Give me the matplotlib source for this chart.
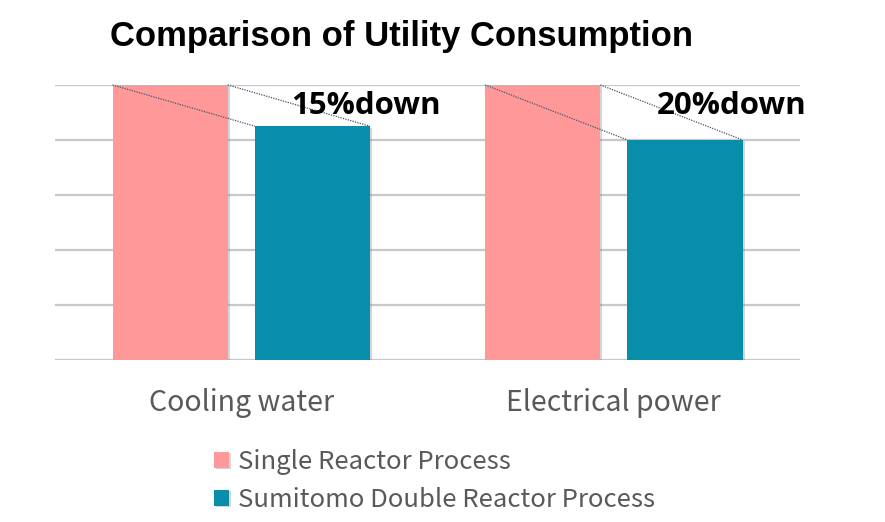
import numpy as np
import matplotlib
matplotlib.use('Agg')
import matplotlib.pyplot as plt
import matplotlib.patheffects as pe

# Datos
categorias = ['Cooling water', 'Electrical power']
series = ['Single Reactor Process', 'Sumitomo Double Reactor Process']
single = [100, 100]
double = [85, 80]
etiquetas = ['15%down', '20%down']

col_single = '#FF9999'
col_double = '#088DAA'
gris = '#595959'

fig = plt.figure(figsize=(8.85, 5.22), dpi=100)
ax = fig.add_axes([0.0621, 0.3103, 0.842, 0.527])

x = np.arange(len(categorias))
ancho = 0.309
desp = 0.191
sombra = [pe.SimplePatchShadow(offset=(1.5, -1), shadow_rgbFace='#888888', alpha=0.35), pe.Normal()]

b1 = ax.bar(x - desp, single, ancho, color=col_single, label=series[0], zorder=3, path_effects=sombra)
b2 = ax.bar(x + desp, double, ancho, color=col_double, label=series[1], zorder=3, path_effects=sombra)

# lineas punteadas entre barras
desp_txt = [0.145, 0.125]
for i in range(len(categorias)):
    for lado in (-1, 1):
        x0 = x[i] - desp + lado * ancho / 2
        x1 = x[i] + desp + lado * ancho / 2
        ax.plot([x0, x1], [single[i], double[i]], color='#44546A', lw=0.9,
                ls=(0, (1, 1)), zorder=4, clip_on=False)
    ax.text(x[i] + desp + desp_txt[i], single[i] - 7.5, etiquetas[i], ha='center', va='center',
            fontsize=22.5, fontweight='bold', family='Open Sans', color='black', zorder=5)

ax.set_xlim(-0.5, 1.5)
ax.set_ylim(0, 100)
ax.set_yticks(np.arange(0, 101, 20))
ax.yaxis.grid(True, color='#c8c8c8', lw=1.6, zorder=0)
ax.set_axisbelow(True)
ax.tick_params(axis='y', left=False, labelleft=False)
ax.tick_params(axis='x', bottom=False, pad=17)
ax.set_xticks(x)
ax.set_xticklabels(categorias, fontsize=20.5, color=gris, family='Noto Sans CJK JP')
for s in ax.spines.values():
    s.set_visible(False)

fig.text(0.124, 0.93, 'Comparison of Utility Consumption', fontsize=24.9, fontweight='bold',
         family='Liberation Sans', ha='left', va='center')

leg = fig.legend(handles=[b1, b2], labels=series, loc='upper left', bbox_to_anchor=(0.219, 0.179),
                 frameon=False, handlelength=0.58, handleheight=0.58, handletextpad=0.35,
                 labelspacing=0.45, borderpad=0.3, prop={'family': 'Noto Sans CJK JP', 'size': 18.5})
for t in leg.get_texts():
    t.set_color(gris)

fig.savefig('out.png', dpi=100)
